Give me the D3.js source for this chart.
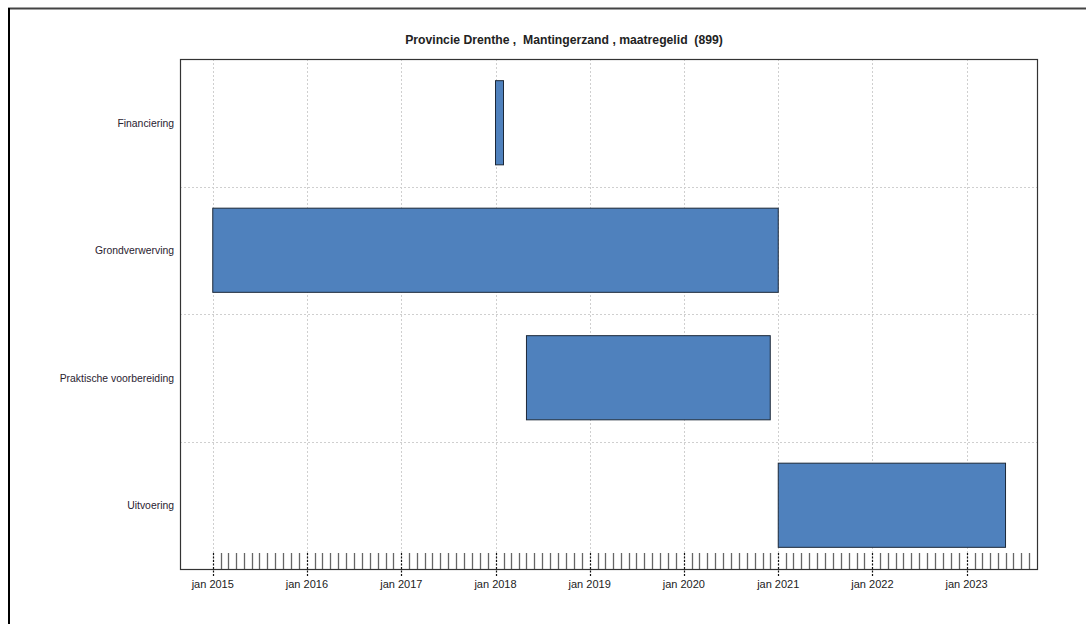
<!DOCTYPE html>
<html>
  <head>
    <meta charset="utf-8" />
    <title>Gantt: Mantingerzand</title>
    <script src="https://d3js.org/d3.v7.min.js"></script>
    <style>
        body {
            margin:0;
            background:#fff;
        }
        text {
            font-family: "Liberation Sans", Arial, sans-serif;
            fill: #222;
        }
    </style>
  </head>
  <body>
      <svg id="viz"></svg>

    <script>

        // data
        var title = "Provincie Drenthe ,  Mantingerzand , maatregelid  (899)";
        var phases = ["Financiering", "Grondverwerving", "Praktische voorbereiding", "Uitvoering"];
        var starts = ["2018-01-01", "2015-01-01", "2018-05-01", "2021-01-01"];
        var ends   = ["2018-02-01", "2021-01-01", "2020-12-01", "2023-06-01"];
        var axisStart = "2014-08-27";
        var axisEnd   = "2023-10-01";

        var width = 1086;
        var height = 624;
        var margin = {left: 180, top: 59, right: 49, bottom: 55};

        var parse = d3.timeParse("%Y-%m-%d");
        var tasks = phases.map(function (p, i) {
            return {name: p, start: parse(starts[i]), end: parse(ends[i])};
        });

        var svg = d3.select("#viz")
        .attr("width", width)
        .attr("height", height);

        // outer frame
        svg.append("line")
        .attr("x1", 8).attr("x2", width).attr("y1", 8.5).attr("y2", 8.5)
        .attr("stroke", "#444").attr("stroke-width", 2);
        svg.append("line")
        .attr("x1", 9).attr("x2", 9).attr("y1", 8).attr("y2", height)
        .attr("stroke", "#000").attr("stroke-width", 2);

        var x = d3.scaleTime()
        .domain([parse(axisStart), parse(axisEnd)])
        .range([margin.left, width - margin.right]);

        var y = d3.scaleBand()
        .domain(phases)
        .range([margin.top, height - margin.bottom])
        .paddingInner(0)
        .paddingOuter(0);

        var plotBottom = height - margin.bottom;
        var years = x.ticks(d3.timeYear.every(1)).filter(function (d) {
            return d >= parse("2015-01-01");
        });
        var months = d3.timeMonth.range(parse("2015-01-01"), parse(axisEnd));

        // grid
        var grid = svg.append("g");
        grid.selectAll(".vg").data(years).enter().append("line")
        .attr("x1", function (d) { return Math.round(x(d)) + 0.5; })
        .attr("x2", function (d) { return Math.round(x(d)) + 0.5; })
        .attr("y1", margin.top).attr("y2", plotBottom)
        .attr("stroke", "#cfcfcf").attr("stroke-dasharray", "2,2");

        grid.selectAll(".hg").data(phases.slice(1)).enter().append("line")
        .attr("x1", margin.left).attr("x2", width - margin.right)
        .attr("y1", function (d) { return Math.round(y(d)) + 0.5; })
        .attr("y2", function (d) { return Math.round(y(d)) + 0.5; })
        .attr("stroke", "#cfcfcf").attr("stroke-dasharray", "2,2");

        // monthly ticks (inside)
        svg.append("g").selectAll("line")
        .data(months.filter(function (d) { return d.getMonth() !== 0; }))
        .enter().append("line")
        .attr("x1", function (d) { return Math.round(x(d)) + 0.5; })
        .attr("x2", function (d) { return Math.round(x(d)) + 0.5; })
        .attr("y1", plotBottom - 16).attr("y2", plotBottom)
        .attr("stroke", "#666").attr("stroke-width", 1.3);

        // bars
        svg.append("g").selectAll("rect").data(tasks).enter().append("rect")
        .attr("x", function (d) { return x(d.start); })
        .attr("width", function (d) { return x(d.end) - x(d.start); })
        .attr("y", function (d) { return y(d.name) + y.bandwidth() * 0.17; })
        .attr("height", y.bandwidth() * 0.66)
        .attr("fill", "#4f81bd")
        .attr("stroke", "#1c2838")
        .attr("stroke-width", 1);

        // year ticks (dashed, through axis)
        svg.append("g").selectAll("line").data(years).enter().append("line")
        .attr("x1", function (d) { return Math.round(x(d)) + 0.5; })
        .attr("x2", function (d) { return Math.round(x(d)) + 0.5; })
        .attr("y1", plotBottom - 16).attr("y2", plotBottom + 7)
        .attr("stroke", "#111").attr("stroke-width", 1.2)
        .attr("stroke-dasharray", "2,1.5");

        // plot border
        svg.append("rect")
        .attr("x", margin.left + 0.5).attr("y", margin.top + 0.5)
        .attr("width", width - margin.right - margin.left)
        .attr("height", plotBottom - margin.top)
        .attr("fill", "none").attr("stroke", "#333").attr("stroke-width", 1.2);

        // x labels
        var fmt = d3.timeFormat("%Y");
        svg.append("g").selectAll("text").data(years).enter().append("text")
        .attr("x", function (d) { return x(d); })
        .attr("y", plotBottom + 19)
        .attr("text-anchor", "middle")
        .style("font-size", "11px")
        .text(function (d) { return "jan " + fmt(d); });

        // y labels
        svg.append("g").selectAll("text").data(phases).enter().append("text")
        .attr("x", margin.left - 6)
        .attr("y", function (d) { return y(d) + y.bandwidth() / 2 + 4; })
        .attr("text-anchor", "end")
        .style("font-size", "10.4px")
        .style("fill", "#2a2230")
        .text(function (d) { return d; });

        // title
        svg.append("text")
        .attr("x", 564).attr("y", 44)
        .attr("text-anchor", "middle")
        .style("font-size", "12.2px")
        .style("font-weight", "bold")
        .style("white-space", "pre")
        .text(title);

    </script>
  </body>
</html>
